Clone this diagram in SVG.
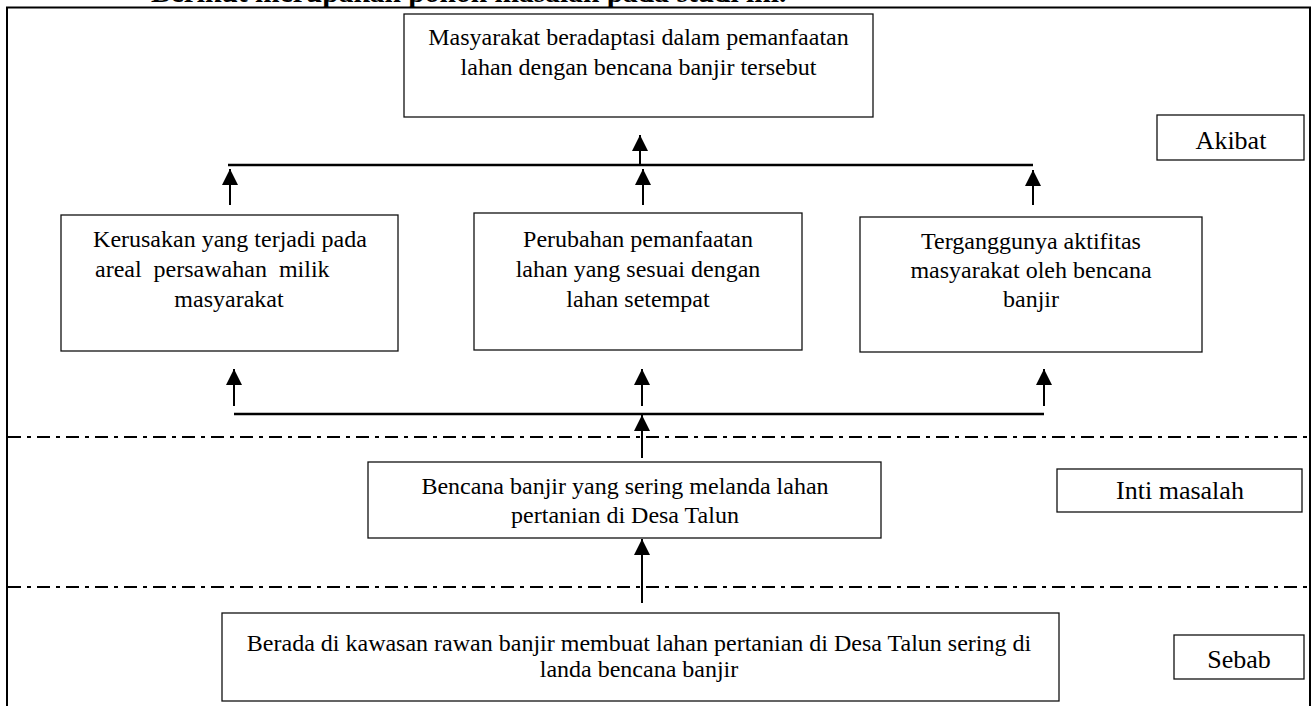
<svg xmlns="http://www.w3.org/2000/svg" width="1314" height="706" viewBox="0 0 1314 706">
<style>
.box{fill:#fff;stroke:#111;stroke-width:1.3}
.t{font-family:"Liberation Serif","Times New Roman",serif;font-size:24px;fill:#000;text-anchor:middle}
.lbl{font-family:"Liberation Serif","Times New Roman",serif;font-size:26px;fill:#000;text-anchor:middle}
.ln{stroke:#000;stroke-width:2.6;fill:none}
.ar{stroke:#000;stroke-width:2;fill:none;marker-end:url(#ah)}
.dd{stroke:#000;stroke-width:2;fill:none;stroke-dasharray:13 6 4 6}
.frame{stroke:#000;stroke-width:2;fill:none}
</style>
<defs>
<marker id="ah" markerUnits="userSpaceOnUse" markerWidth="16" markerHeight="18" refX="16" refY="8" orient="auto">
<path d="M0,0 L16,8 L0,16 Z" fill="#000"/>
</marker>
</defs>
<rect width="1314" height="706" fill="#fff"/>
<text x="151" y="2" font-family="Liberation Serif, serif" font-size="29.5" font-weight="bold">Berikut merupakan pohon masalah pada studi ini.</text>
<path class="frame" d="M7,706 V7.5 H1310 V706"/>

<g id="connectors">
<line class="ln" x1="228" y1="165" x2="1033" y2="165"/>
<line class="ar" x1="640" y1="165" x2="640" y2="135"/>
<line class="ar" x1="230" y1="205" x2="230" y2="169"/>
<line class="ar" x1="643" y1="205" x2="643" y2="169"/>
<line class="ar" x1="1033" y1="205" x2="1033" y2="170"/>
<line class="ln" x1="234" y1="414" x2="1044" y2="414"/>
<line class="ar" x1="234" y1="406" x2="234" y2="369"/>
<line class="ar" x1="642" y1="406" x2="642" y2="369"/>
<line class="ar" x1="1044" y1="406" x2="1044" y2="369"/>
<line class="ar" x1="642" y1="458" x2="642" y2="415"/>
<line class="ar" x1="642" y1="603" x2="642" y2="539"/>
<line class="dd" x1="8" y1="437" x2="1309" y2="437"/>
<line class="dd" x1="8" y1="587" x2="1309" y2="587"/>
</g>

<g id="node-top">
<rect class="box" x="404" y="14" width="469" height="103"/>
<text class="t" x="638.5" y="45">Masyarakat beradaptasi dalam pemanfaatan</text>
<text class="t" x="638.5" y="75">lahan dengan bencana banjir tersebut</text>
</g>
<g id="node-akibat">
<rect class="box" x="1157" y="115" width="147" height="45"/>
<text class="lbl" x="1231" y="149">Akibat</text>
</g>
<g id="node-kerusakan">
<rect class="box" x="61" y="215" width="337" height="136"/>
<text class="t" x="230" y="247">Kerusakan yang terjadi pada</text>
<text class="t" x="95" y="277" style="text-anchor:start;word-spacing:6px">areal persawahan milik</text>
<text class="t" x="229" y="307">masyarakat</text>
</g>
<g id="node-perubahan">
<rect class="box" x="474" y="213" width="328" height="137"/>
<text class="t" x="638" y="247">Perubahan pemanfaatan</text>
<text class="t" x="638" y="277">lahan yang sesuai dengan</text>
<text class="t" x="638" y="307">lahan setempat</text>
</g>
<g id="node-terganggu">
<rect class="box" x="860" y="217" width="342" height="135"/>
<text class="t" x="1031" y="249">Terganggunya aktifitas</text>
<text class="t" x="1031" y="278">masyarakat oleh bencana</text>
<text class="t" x="1031" y="307">banjir</text>
</g>
<g id="node-inti">
<rect class="box" x="368" y="462" width="513" height="76"/>
<text class="t" x="625" y="494">Bencana banjir yang sering melanda lahan</text>
<text class="t" x="625" y="523">pertanian di Desa Talun</text>
</g>
<g id="node-inti-label">
<rect class="box" x="1057" y="469" width="245" height="43"/>
<text class="lbl" x="1180" y="499">Inti masalah</text>
</g>
<g id="node-sebab">
<rect class="box" x="222" y="613" width="837" height="88"/>
<text class="t" x="639" y="651">Berada di kawasan rawan banjir membuat lahan pertanian di Desa Talun sering di</text>
<text class="t" x="639" y="677">landa bencana banjir</text>
</g>
<g id="node-sebab-label">
<rect class="box" x="1174" y="635" width="130" height="44"/>
<text class="lbl" x="1239" y="668">Sebab</text>
</g>
</svg>
